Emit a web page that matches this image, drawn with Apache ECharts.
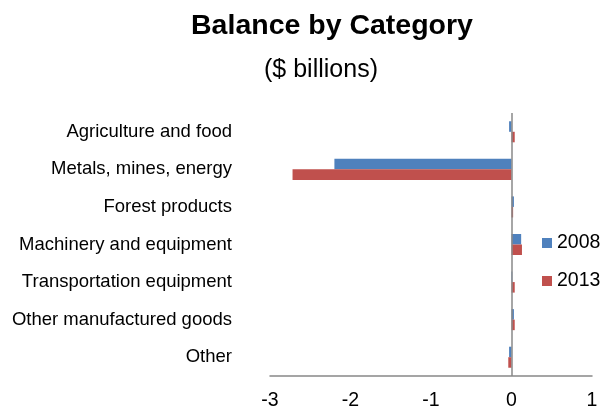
<!DOCTYPE html>
<html>
<head>
<meta charset="utf-8">
<script src="https://cdn.jsdelivr.net/npm/echarts@6/dist/echarts.min.js"></script>
<style>html,body{margin:0;padding:0;background:#fff}#c{width:613px;height:412px}</style>
</head>
<body>
<div id="c"></div>
<script>
const categories = ['Agriculture and food','Metals, mines, energy','Forest products','Machinery and equipment','Transportation equipment','Other manufactured goods','Other'];
const values2008 = [-0.03, -2.20, 0.03, 0.12, 0.01, 0.03, -0.03];
const values2013 = [0.04, -2.72, 0.02, 0.13, 0.04, 0.04, -0.04];
const xTicks = [-3, -2, -1, 0, 1];
const FONT = 'Liberation Sans, Arial, sans-serif';
const chart = echarts.init(document.getElementById('c'));
chart.setOption({
  animation: false,
  textStyle: { fontFamily: FONT },
  graphic: [
    { type: 'text', x: 332, y: 26, style: { text: 'Balance by Category', font: 'bold 28.5px ' + FONT, fill: '#000', textAlign: 'center', textVerticalAlign: 'middle' } },
    { type: 'text', x: 321, y: 70, style: { text: '($ billions)', font: '25px ' + FONT, fill: '#000', textAlign: 'center', textVerticalAlign: 'middle' } }
  ],
  legend: {
    orient: 'vertical', left: 537, top: 228, itemWidth: 10, itemHeight: 10, itemGap: 18,
    icon: 'rect', textStyle: { fontSize: 19.5, color: '#000', fontFamily: FONT },
    data: ['2008', '2013']
  },
  grid: { left: 270, right: 21, top: 113, bottom: 36, containLabel: false },
  xAxis: {
    type: 'value', min: xTicks[0], max: xTicks[xTicks.length - 1], interval: 1,
    axisLine: { show: true, onZero: false, lineStyle: { color: '#888', width: 1.5 } },
    axisTick: { show: false }, splitLine: { show: false },
    axisLabel: { fontSize: 19.5, color: '#000', margin: 15, fontFamily: FONT }
  },
  yAxis: {
    type: 'category', data: categories, inverse: true,
    axisLine: { show: false, onZero: false }, axisTick: { show: false },
    axisLabel: { fontSize: 18.5, color: '#000', margin: 38, fontFamily: FONT }
  },
  series: [
    { name: '2008', type: 'bar', data: values2008, itemStyle: { color: '#4F81BD' }, barGap: '0%', barCategoryGap: '44%',
      markLine: { silent: true, symbol: 'none', label: { show: false }, lineStyle: { color: '#888', width: 1.5, type: 'solid' }, data: [{ xAxis: 0 }] } },
    { name: '2013', type: 'bar', data: values2013, itemStyle: { color: '#C0504D' }, barGap: '0%', barCategoryGap: '44%' }
  ]
});
</script>
</body>
</html>
